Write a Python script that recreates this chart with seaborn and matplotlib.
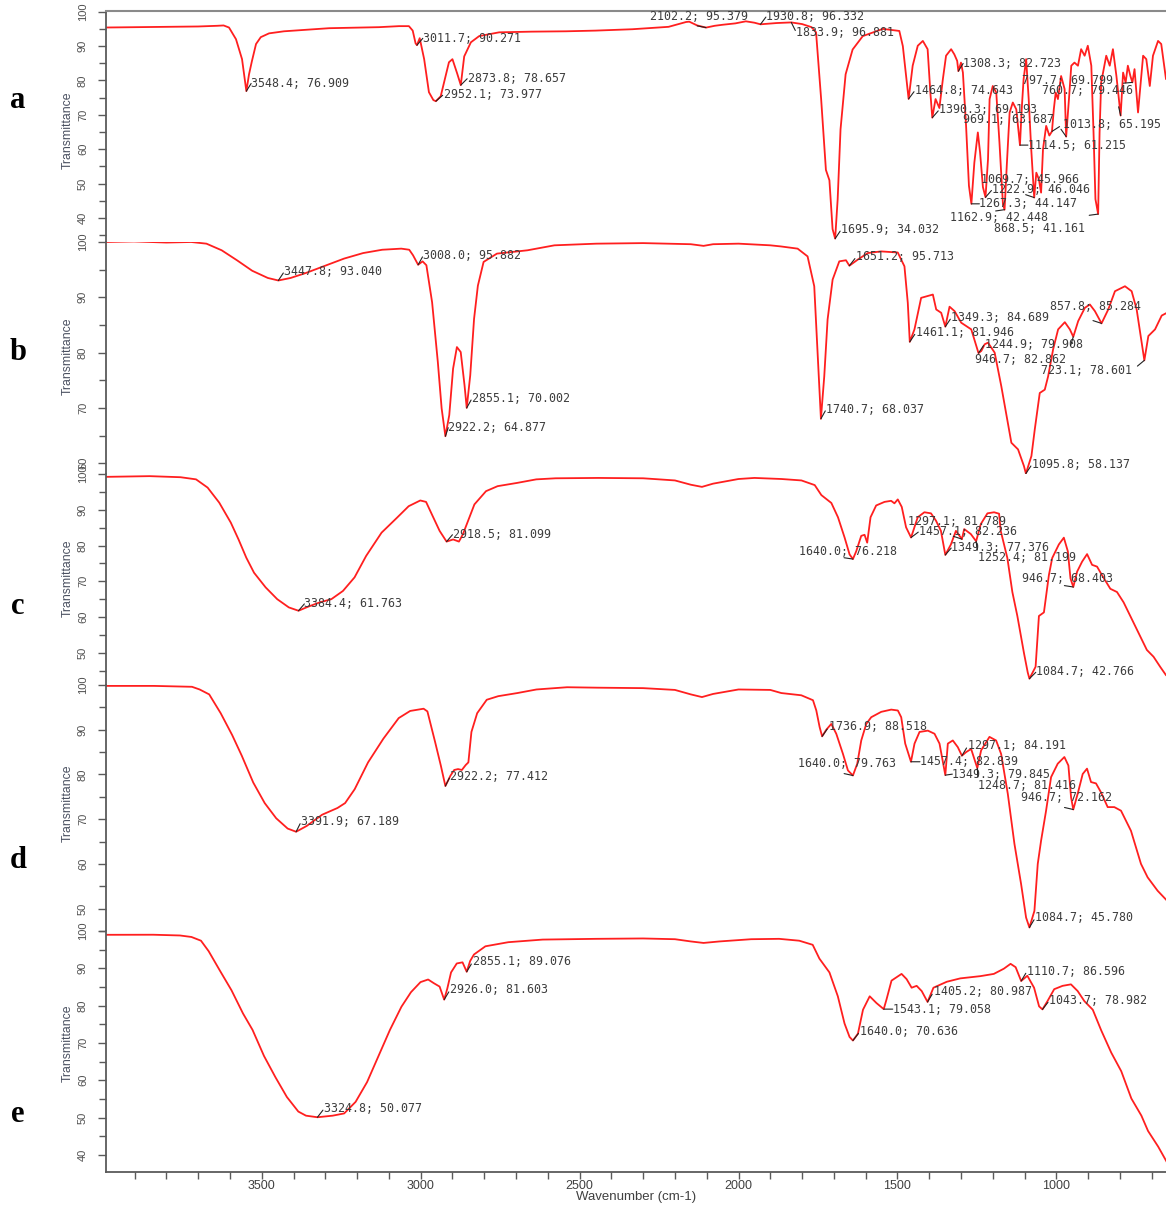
import matplotlib
matplotlib.use("Agg")
import matplotlib.pyplot as plt
import numpy as np
import pandas as pd
import seaborn as sns
from matplotlib.ticker import MultipleLocator, FixedLocator

# ---------------------------------------------------------------- spectra
# wavenumber (cm-1) and transmittance (%) for each sample

a_wn = [3992, 3900, 3800, 3700, 3640, 3620, 3603, 3581, 3562, 3548.4, 3540, 3531, 3518, 3503,
        3477, 3430, 3383, 3288, 3131, 3068, 3037, 3025, 3016, 3011.7, 3003, 2989, 2974, 2960,
        2952.1, 2937, 2911, 2900, 2885, 2873.8, 2863, 2842, 2816, 2753, 2650, 2543, 2450, 2334,
        2220, 2165, 2155, 2130, 2102.2, 2075, 2050, 2010, 1977, 1950, 1930.8, 1880, 1833.9, 1800,
        1770, 1756, 1740, 1725, 1714, 1704, 1695.9, 1688, 1679, 1663, 1641, 1609, 1546, 1494,
        1483, 1464.8, 1452, 1436, 1420, 1405, 1396, 1390.3, 1380, 1368, 1357, 1347, 1331, 1321,
        1312, 1308.3, 1300, 1294, 1284, 1275, 1267.3, 1258, 1247, 1240, 1231, 1222.9, 1215, 1210,
        1200, 1189, 1179, 1168, 1162.9, 1156, 1147, 1137, 1126, 1114.5, 1109, 1103, 1095, 1087,
        1079, 1069.7, 1063, 1055, 1048, 1042, 1032, 1022, 1013.8, 1008, 1002, 995, 985, 974,
        969.1, 960, 953, 943, 932, 922, 911, 901, 890, 883, 877, 868.5, 864, 859, 851, 843, 832,
        822, 811, 797.7, 790, 782, 775, 767, 760.7, 754, 743, 727, 717, 706, 696, 680, 670, 655]
a_T = [95.4, 95.5, 95.6, 95.7, 95.9, 96.0, 95.4, 92.0, 86.2, 76.909, 81.8, 85.6, 90.6, 92.6,
       93.7, 94.3, 94.6, 95.2, 95.5, 95.8, 95.8, 94.5, 90.8, 90.271, 92.3, 86.2, 76.6, 74.3,
       73.977, 75.4, 85.3, 86.2, 82.0, 78.657, 87.0, 91.1, 92.9, 94.0, 94.2, 94.3, 94.5, 94.9,
       95.6, 97.0, 97.1, 96.0, 95.379, 95.9, 96.2, 96.6, 97.2, 96.8, 96.332, 96.7, 96.881, 96.4,
       95.5, 94.0, 74.6, 54.0, 51.0, 36.8, 34.032, 45.5, 65.8, 81.8, 89.0, 92.9, 95.0, 94.4,
       90.0, 74.643, 84.3, 90.1, 91.5, 89.1, 76.0, 69.193, 74.6, 72.0, 80.4, 87.2, 89.1, 87.6,
       85.7, 82.723, 85.2, 82.3, 66.8, 49.4, 44.147, 56.1, 64.9, 59.1, 49.0, 46.046, 57.1, 74.6,
       78.4, 76.5, 62.0, 44.0, 42.448, 55.2, 70.7, 73.6, 71.6, 61.215, 71.6, 80.4, 86.2, 74.6,
       60.0, 45.966, 53.2, 51.3, 47.4, 60.0, 66.8, 64.0, 65.195, 71.6, 76.5, 74.6, 81.3, 77.5,
       63.687, 75.0, 84.3, 85.2, 84.3, 89.1, 87.2, 90.1, 84.3, 64.9, 45.5, 41.161, 64.9, 79.4,
       83.3, 87.2, 84.3, 89.1, 81.3, 69.799, 82.3, 79.4, 84.3, 81.3, 79.446, 83.3, 70.7, 87.2,
       86.2, 78.4, 87.2, 91.5, 90.6, 80.4]

b_wn = [3992, 3902, 3800, 3722, 3674, 3626, 3578, 3530, 3481, 3447.8, 3409, 3361, 3301, 3241,
        3181, 3121, 3061, 3036, 3024, 3008.0, 2994, 2982, 2964, 2946, 2934, 2922.2, 2910, 2898,
        2886, 2874, 2862, 2855.1, 2844, 2832, 2820, 2802, 2760, 2664, 2579, 2447, 2300, 2150,
        2110, 2080, 2000, 1900, 1866.8, 1814, 1782.7, 1761.7, 1751.2, 1740.7, 1730.2, 1719.7,
        1703.9, 1682.9, 1661.9, 1651.2, 1625.1, 1593.5, 1551.5, 1498.9, 1477.9, 1467.4, 1461.1,
        1446.4, 1425.4, 1388.5, 1378, 1362.3, 1349.3, 1336, 1320.2, 1299.2, 1267.7, 1244.9,
        1236.1, 1225.6, 1215.1, 1194.1, 1173.1, 1141.5, 1120.5, 1102, 1095.8, 1078.4, 1067.9,
        1052.2, 1036.4, 1025.9, 1010.1, 994.4, 973.3, 957.5, 946.7, 931.3, 910.2, 894.5, 878.7,
        857.8, 836.7, 815.6, 784.1, 763.1, 747.3, 731.5, 723.1, 710.5, 689.5, 668.5, 652]
b_T = [100.0, 100.1, 99.9, 100.0, 99.7, 98.5, 96.7, 94.8, 93.5, 93.040, 93.5, 94.4, 95.7, 97.0,
       98.0, 98.6, 98.8, 98.6, 97.6, 95.882, 96.5, 95.8, 89.1, 78.3, 69.9, 64.877, 68.7, 77.1,
       81.0, 80.1, 74.1, 70.002, 75.9, 86.1, 92.1, 96.4, 97.9, 98.5, 99.4, 99.7, 99.8, 99.6,
       99.3, 99.6, 99.7, 99.4, 99.2, 98.8, 97.4, 92.0, 80.0, 68.037, 75.7, 86.0,
       93.2, 96.5, 96.7, 95.713, 96.8, 98.0, 98.3, 98.1, 95.6, 89.0, 81.946,
       84.2, 89.9, 90.5, 87.8, 87.2, 84.689, 88.3, 87.5, 85.4, 84.2, 79.908,
       80.3, 81.5, 81.8, 80.0, 73.9, 63.7, 62.5, 59.5, 58.137, 61.3, 66.1,
       72.7, 73.3, 75.7, 80.6, 84.2, 85.5, 84.2, 82.862, 85.7, 88.1, 88.7, 87.5,
       85.284, 87.8, 91.1, 92.0, 91.1, 87.8, 81.8, 78.601, 83.0, 84.2, 86.7, 87.2]

c_wn = [3992, 3852.7, 3755.4, 3706.7, 3670.3, 3633.8, 3597.3, 3573, 3548.6, 3524.3, 3487.8,
        3451.3, 3414.8, 3384.4, 3354, 3317.5, 3281, 3244.5, 3208, 3171.5, 3123, 3074.2, 3037.7,
        3001.2, 2983, 2964.7, 2940.4, 2918.5, 2897.8, 2879.6, 2867.4, 2855.2, 2830.9, 2794.4,
        2757.9, 2697.1, 2636.3, 2575.5, 2441.7, 2300, 2200, 2150, 2115, 2080, 2000, 1950, 1864.7,
        1802, 1760.2, 1739.3, 1707.9, 1687, 1666.1, 1650.5, 1640.0, 1629.6, 1613.9, 1603.4,
        1595.1, 1584.6, 1566.9, 1540.7, 1519.8, 1509.4, 1498.9, 1486.4, 1472.8, 1457.1, 1436.2,
        1415.3, 1394.4, 1378.8, 1363.1, 1349.3, 1331.7, 1316, 1297.1, 1289.9, 1269, 1252.4,
        1237.7, 1216.8, 1195.9, 1180.2, 1175, 1154.1, 1138.4, 1122.7, 1101.8, 1090, 1084.7,
        1065.3, 1054.8, 1039.1, 1023.5, 1013, 992.1, 976.4, 963.9, 955.5, 946.7, 934.6, 918.9,
        903.3, 887.6, 871.9, 856.3, 830.1, 809.2, 788.3, 767.4, 736.1, 715.2, 694.2, 673.4, 654.6]
c_T = [99.2, 99.4, 99.1, 98.5, 96.2, 92.0, 86.4, 81.7, 76.6, 72.4, 68.3,
       65.0, 62.7, 61.763, 62.9, 64.1, 65.0, 67.3, 71.1, 77.1, 83.6, 87.8, 91.0,
       92.6, 92.2, 88.7, 84.1, 81.099, 81.7, 81.1, 83.1, 85.9, 91.5, 95.2,
       96.6, 97.5, 98.5, 98.8, 98.9, 98.8, 98.2, 97.0, 96.4, 97.3, 98.6, 98.9, 98.6,
       98.2, 96.9, 94.1, 91.9, 87.9, 82.2, 77.5, 76.218, 78.4, 82.7, 83.0,
       80.8, 87.9, 91.2, 92.2, 92.5, 91.8, 92.9, 90.8, 85.1, 82.236, 87.9,
       89.3, 89.0, 86.96, 84.1, 77.376, 80.3, 84.1, 81.789, 84.6, 83.2, 81.199,
       86.0, 89.0, 89.3, 88.9, 84.1, 76.5, 67.0, 60.3, 49.9, 44.5, 42.766,
       46.1, 60.3, 61.3, 71.7, 76.5, 80.3, 82.2, 78.4, 70.8, 68.403, 72.7, 75.5,
       77.6, 74.6, 74.1, 71.7, 67.9, 67.0, 64.1, 60.3, 54.6, 50.8, 48.9, 46.1, 43.7]

d_wn = [3992, 3839.9, 3719.5, 3695.4, 3665.3, 3629.2, 3593.0, 3562.9, 3526.8, 3490.7, 3454.5,
        3418.4, 3391.9, 3358.2, 3310.0, 3261.8, 3237.7, 3207.6, 3165.5, 3117.3, 3069.1, 3033.0,
        2990.8, 2978.8, 2954.7, 2936.6, 2922.2, 2906.5, 2894.5, 2882.4, 2870.4, 2858.4, 2849.9,
        2840.3, 2822.2, 2792.1, 2756.0, 2695.8, 2635.6, 2539.2, 2442.9, 2300, 2200, 2150, 2115,
        2080, 2000, 1900, 1865.3, 1802.4, 1765.7, 1755.2, 1744.8, 1736.9, 1723.8, 1708.1, 1692.4,
        1671.4, 1655.7, 1640.0, 1626.4, 1613.8, 1598.1, 1582.4, 1550.9, 1519.5, 1498.6, 1488.1,
        1475.5, 1457.4, 1446.2, 1430.5, 1404.3, 1383.3, 1367.6, 1349.3, 1341.4, 1325.7, 1310,
        1297.1, 1283.8, 1268.1, 1248.7, 1236.6, 1210.4, 1189.5, 1173.8, 1152.8, 1131.9, 1110.9,
        1095.2, 1084.7, 1069.0, 1058.5, 1048, 1032.3, 1016.6, 995.7, 974.7, 962.1, 953.7, 946.7,
        932.8, 917.1, 903.5, 890.9, 875.2, 859.5, 838.5, 817.6, 796.6, 765.2, 733.7, 712.8, 681.4,
        652.0]
d_T = [99.8, 99.8, 99.6, 99.0, 97.9, 93.7, 88.8, 84.2, 78.2, 73.6, 70.2,
       67.9, 67.189, 68.5, 71.0, 72.5, 73.6, 76.7, 82.7, 88.0, 92.6, 94.2,
       94.7, 94.1, 87.3, 82.0, 77.412, 79.7, 81.0, 81.2, 81.0, 82.1, 82.7,
       89.5, 93.7, 96.7, 97.5, 98.2, 99.0, 99.5, 99.4, 99.3, 98.9, 97.9, 97.3,
       98.0, 99.0, 98.9, 98.2, 97.7, 96.6, 94.3, 90.6, 88.518, 90.0, 91.3, 89.1,
       84.6, 80.9, 79.763, 82.4, 87.6, 91.3, 92.8, 94.0, 94.5, 94.3, 92.8,
       86.9, 82.839, 86.9, 89.5, 89.8, 89.1, 86.9, 79.845, 86.9, 87.6, 86.1,
       84.191, 85.0, 85.7, 81.416, 85.4, 88.4, 87.6, 84.6, 75.7, 64.5, 55.5,
       48.0, 45.780, 49.5, 60.0, 65.2, 71.9, 79.4, 82.4, 83.9, 82.0, 74.9, 72.162,
       75.7, 80.1, 81.3, 78.3, 78.0, 76.0, 72.7, 72.7, 71.9, 67.4, 60.0, 57.0, 54.0,
       51.8]

e_wn = [3992, 3841.3, 3757.2, 3721.2, 3691.2, 3667.1, 3631.1, 3595.1, 3559.0, 3529.0, 3492.9,
        3456.9, 3420.9, 3384.9, 3360.8, 3324.8, 3276.8, 3240.7, 3204.7, 3168.6, 3132.6, 3096.6,
        3060.5, 3030.5, 3000.5, 2976.5, 2958.4, 2940.4, 2926.0, 2916.4, 2904.4, 2886.4, 2868.3,
        2855.1, 2844.3, 2832.3, 2796.3, 2724.2, 2616.1, 2447.9, 2300, 2200, 2150, 2110, 2060,
        1960, 1872.2, 1808.9, 1766.6, 1745.5, 1713.9, 1687.5, 1666.4, 1650.6, 1640.0, 1624.2,
        1608.3, 1587.2, 1566.1, 1543.1, 1534.5, 1518.6, 1502.8, 1487, 1471.1, 1455.3, 1439.5,
        1423.6, 1405.2, 1386.7, 1344.5, 1302.3, 1239, 1196.7, 1165.1, 1144, 1128.1, 1110.7,
        1091.2, 1070.1, 1054.3, 1043.7, 1027.9, 1006.8, 980.4, 954, 932.9, 911.8, 885.4, 859,
        827.3, 795.7, 764, 732.4, 711.5, 679.6, 650]
e_T = [98.98, 99.0, 98.8, 98.4, 97.4, 94.6, 89.3, 84.1, 77.9, 73.5, 66.5,
       60.8, 55.5, 51.6, 50.5, 50.077, 50.5, 51.1, 54.2, 59.5, 66.5, 73.5,
       79.7, 83.6, 86.3, 87.0, 86.0, 85.1, 81.603, 84.5, 88.9, 91.3, 91.6,
       89.076, 91.96, 93.7, 95.9, 97.0, 97.7, 97.9, 98.0, 97.8, 97.2, 96.8, 97.2,
       97.8, 97.9, 97.4, 96.3, 92.6, 88.9, 82.5, 75.2, 71.6, 70.636, 72.5,
       78.9, 82.5, 80.7, 79.058, 81.6, 86.7, 87.6, 88.5, 87.1, 84.8, 85.3,
       83.9, 80.987, 84.8, 86.4, 87.3, 87.9, 88.5, 89.9, 91.2, 90.3, 86.596,
       88.0, 84.8, 79.8, 78.982, 81.2, 84.4, 85.3, 85.7, 83.9, 81.2, 78.9, 73.4,
       67.4, 62.4, 55.1, 50.5, 46.4, 42.2, 37.7]

# labelled bands (wavenumber, transmittance)
peaks_a = [(3548.4, 76.909), (3011.7, 90.271), (2952.1, 73.977), (2873.8, 78.657),
           (2102.2, 95.379), (1930.8, 96.332), (1833.9, 96.881), (1695.9, 34.032),
           (1464.8, 74.643), (1390.3, 69.193), (1308.3, 82.723), (969.1, 63.687),
           (1114.5, 61.215), (1013.8, 65.195), (797.7, 69.799), (760.7, 79.446),
           (1069.7, 45.966), (1222.9, 46.046), (1267.3, 44.147), (1162.9, 42.448),
           (868.5, 41.161)]
peaks_b = [(3447.8, 93.040), (3008.0, 95.882), (2922.2, 64.877), (2855.1, 70.002),
           (1651.2, 95.713), (1740.7, 68.037), (1461.1, 81.946), (1349.3, 84.689),
           (857.8, 85.284), (1244.9, 79.908), (946.7, 82.862), (723.1, 78.601),
           (1095.8, 58.137)]
peaks_c = [(3384.4, 61.763), (2918.5, 81.099), (1640.0, 76.218), (1297.1, 81.789),
           (1457.1, 82.236), (1349.3, 77.376), (1252.4, 81.199), (946.7, 68.403),
           (1084.7, 42.766)]
peaks_d = [(3391.9, 67.189), (2922.2, 77.412), (1736.9, 88.518), (1640.0, 79.763),
           (1457.4, 82.839), (1297.1, 84.191), (1349.3, 79.845), (1248.7, 81.416),
           (946.7, 72.162), (1084.7, 45.780)]
peaks_e = [(3324.8, 50.077), (2926.0, 81.603), (2855.1, 89.076), (1640.0, 70.636),
           (1543.1, 79.058), (1405.2, 80.987), (1110.7, 86.596), (1043.7, 78.982)]

panel_letters = ["a", "b", "c", "d", "e"]
x_ticks = [3500, 3000, 2500, 2000, 1500, 1000]

# ---------------------------------------------------------------- layout
W, H = 1166, 1205
AX_LEFT, AX_RIGHT = 106, 1166
X_LIMITS = (3990, 655)

# (top px, bottom px), y-limits, label centre y px
panel_box = [(11, 242), (242, 474), (474, 685), (685, 931), (931, 1172)]
panel_ylim = [(33.05, 100.2), (58.05, 100.0), (41.0, 100.0), (45.0, 100.0), (35.4, 100.0)]
ylabel_y = [130, 356, 578, 803, 1043]
letter_y = [100, 352, 606, 860, 1115]

# text offsets in pixels from each labelled band: (dx, dy, horizontal alignment)
offsets_a = [(5, 8, "left"), (6, 7, "left"), (8, 7, "left"), (7, 7, "left"),
             (-56, 11, "left"), (6, 8, "left"), (5, -10, "left"), (6, 9, "left"),
             (6, 8, "left"), (7, 8, "left"), (5, 8, "left"), (-12, 17, "right"),
             (8, 0, "left"), (11, 7, "left"), (-8, 35, "right"), (-90, -8, "left"),
             (-53, 18, "left"), (7, 8, "left"), (8, 0, "left"), (-55, -8, "left"),
             (-104, -14, "left")]
offsets_b = [(6, 9, "left"), (5, 9, "left"), (3, 9, "left"), (5, 9, "left"),
             (7, 9, "left"), (5, 9, "left"), (6, 9, "left"), (6, 9, "left"),
             (-52, 17, "left"), (6, 9, "left"), (-7, -23, "right"), (-12, -10, "right"),
             (6, 9, "left")]
offsets_c = [(6, 7, "left"), (6, 7, "left"), (-54, 8, "left"), (-54, 18, "left"),
             (8, 6, "left"), (6, 7, "left"), (2, -16, "left"), (-51, 8, "left"),
             (7, 7, "left")]
offsets_d = [(5, 10, "left"), (5, 10, "left"), (7, 10, "left"), (-55, 12, "left"),
             (9, 0, "left"), (6, 10, "left"), (7, 1, "left"), (1, -17, "left"),
             (-52, 12, "left"), (6, 10, "left")]
offsets_e = [(7, 9, "left"), (6, 10, "left"), (6, 10, "left"), (7, 9, "left"),
             (9, 0, "left"), (6, 10, "left"), (6, 10, "left"), (7, 9, "left")]

LINE_COLOR = "#ff1f1f"
TEXT_COLOR = "#3c3c3c"
TICK_COLOR = "#5a5a5a"

sns.set_style("white")
plt.rcParams["font.family"] = ["Liberation Sans", "DejaVu Sans"]

fig = plt.figure(figsize=(W / 100, H / 100), dpi=100)

series = [(a_wn, a_T), (b_wn, b_T), (c_wn, c_T), (d_wn, d_T), (e_wn, e_T)]
peaks = [peaks_a, peaks_b, peaks_c, peaks_d, peaks_e]
offsets = [offsets_a, offsets_b, offsets_c, offsets_d, offsets_e]

for i, ((wn, tr), pk, off) in enumerate(zip(series, peaks, offsets)):
    top, bot = panel_box[i]
    ax = fig.add_axes([AX_LEFT / W, 1 - bot / H, (AX_RIGHT - AX_LEFT) / W, (bot - top) / H])
    df = pd.DataFrame({"wavenumber": wn, "transmittance": tr})
    sns.lineplot(data=df, x="wavenumber", y="transmittance", ax=ax, sort=False,
                 estimator=None, color=LINE_COLOR, linewidth=1.3, legend=False)
    ax.set_xlim(*X_LIMITS)
    ax.set_ylim(*panel_ylim[i])
    ax.set_xlabel("")
    ax.set_ylabel("")

    # y axis: labels every 10, ticks every 5
    ax.yaxis.set_major_locator(MultipleLocator(10))
    ax.yaxis.set_minor_locator(MultipleLocator(5))
    ax.tick_params(axis="y", which="major", direction="out", length=6, width=1,
                   color=TICK_COLOR, labelsize=8, labelcolor="#505050", pad=7,
                   labelrotation=90, left=True)
    ax.tick_params(axis="y", which="minor", direction="out", length=5, width=1,
                   color=TICK_COLOR, left=True)
    for lab in ax.get_yticklabels():
        lab.set_va("center")

    # x axis
    ax.xaxis.set_major_locator(FixedLocator(x_ticks))
    ax.xaxis.set_minor_locator(MultipleLocator(100))
    last = i == len(series) - 1
    if last:
        ax.tick_params(axis="x", which="both", direction="out", length=5, width=1,
                       color=TICK_COLOR, bottom=True, labelsize=9, labelcolor="#404040", pad=0.5)
    else:
        ax.tick_params(axis="x", which="both", bottom=False, labelbottom=False)

    ax.spines["right"].set_visible(False)
    ax.spines["left"].set_color(TICK_COLOR)
    ax.spines["left"].set_linewidth(1.3)
    ax.spines["top"].set_visible(i == 0)
    ax.spines["top"].set_color("#8a8a8a")
    ax.spines["top"].set_linewidth(1.5)
    ax.spines["bottom"].set_visible(last)
    ax.spines["bottom"].set_color(TICK_COLOR)
    ax.spines["bottom"].set_linewidth(1.3)

    # band labels with short leader marks
    for (pw, pt), (dx, dy, ha) in zip(pk, off):
        ax.annotate(f"{pw:.1f}; {pt:.3f}", xy=(pw, pt), xytext=(dx, dy),
                    textcoords="offset pixels", ha=ha, va="center",
                    fontsize=8.4, family="DejaVu Sans Mono", color=TEXT_COLOR,
                    annotation_clip=False)
        dist = np.hypot(dx, dy)
        if dist > 0:
            k = min(dist, 9.0) / dist
            ax.annotate("", xy=(pw, pt), xytext=(dx * k, dy * k),
                        textcoords="offset pixels",
                        arrowprops=dict(arrowstyle="-", color="#222222", lw=0.8,
                                        shrinkA=0, shrinkB=0),
                        annotation_clip=False)

    fig.text(68 / W, 1 - ylabel_y[i] / H, "Transmittance", rotation=90,
             ha="center", va="center", fontsize=8.8, color="#4a5060",
             family=["Liberation Sans Narrow", "Liberation Sans", "DejaVu Sans"])
    fig.text(18 / W, 1 - letter_y[i] / H, panel_letters[i], ha="center", va="center",
             fontsize=22, fontweight="bold", family=["Liberation Serif", "DejaVu Serif"],
             color="black")

fig.text((AX_LEFT + AX_RIGHT) / 2 / W, 1 - 1197 / H, "Wavenumber (cm-1)",
         ha="center", va="center", fontsize=9.5, color="#404040")

fig.savefig("out.png", dpi=100, facecolor="white")
